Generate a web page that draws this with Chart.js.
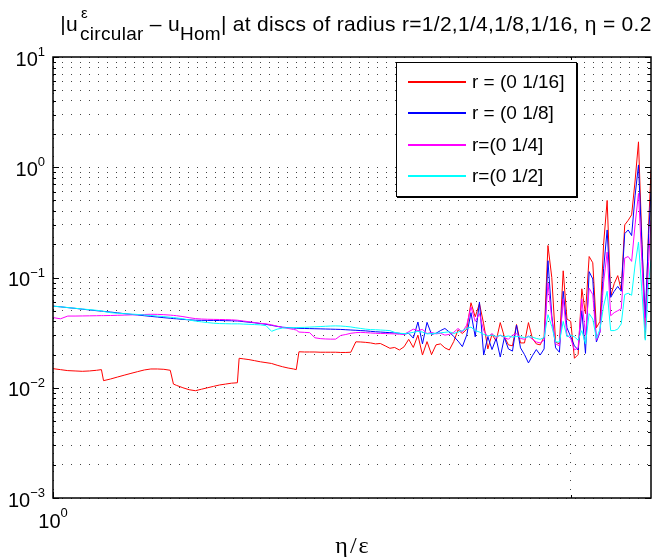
<!DOCTYPE html>
<html>
<head>
<meta charset="utf-8">
<script src="https://cdn.jsdelivr.net/npm/chart.js@4"></script>
<style>
  html, body { margin: 0; padding: 0; background: #fff; }
  #wrap { position: relative; width: 662px; height: 557px; overflow: hidden; }
  #c { position: absolute; left: 0; top: 0; }
  #title {
    position: absolute; left: 30px; width: 652px; top: 12px;
    text-align: center; white-space: nowrap; color: #000; letter-spacing: 0.3px;
    font: 21px "Liberation Sans", Arial, sans-serif; line-height: 23px;
  }
  .st { position: relative; display: inline-block; padding-left: 2px; }
  .st .sp { position: absolute; left: 3px; top: -11px; font-size: 15px; }
  .sb { position: relative; top: 9px; font-size: 19px; }
  #legend {
    position: absolute; left: 396px; top: 62px; width: 179px; height: 133px;
    border: 1px solid #000; background: #fff; box-shadow: 1px 1px 0 #000;
    font: 19px "Liberation Sans", Arial, sans-serif; color: #000;
  }
  .row { position: absolute; left: 0; width: 100%; height: 20px; line-height: 20px; }
  .swatch { position: absolute; left: 11px; top: 9px; width: 58px; height: 2px; }
  .lab { position: absolute; left: 75px; top: 0; white-space: nowrap; }
</style>
</head>
<body>
<div id="wrap">
  <canvas id="c" width="662" height="557"></canvas>
  <div id="title">|u<span class="st"><span class="sp">ε</span><span class="sb">circular</span></span> – u<span class="sb">Hom</span>| at discs of radius r=1/2,1/4,1/8,1/16, η = 0.2</div>
  <div id="legend"></div>
</div>
<script>
// η/ε sample points (shared by all four curves)
const xs = [
  1.00, 1.01, 1.02, 1.03, 1.04, 1.05, 1.06, 1.067, 1.07, 1.08,
  1.09, 1.10, 1.11, 1.12, 1.13, 1.14, 1.15, 1.16, 1.17, 1.175,
  1.18, 1.19, 1.20, 1.21, 1.22, 1.23, 1.24, 1.25, 1.26, 1.27,
  1.28, 1.283, 1.29, 1.30, 1.31, 1.32, 1.33, 1.34, 1.35, 1.36,
  1.37, 1.38, 1.385, 1.39, 1.40, 1.41, 1.42, 1.43, 1.44, 1.45,
  1.46, 1.47, 1.48, 1.49, 1.50, 1.51, 1.52, 1.53, 1.54, 1.55,
  1.56, 1.57, 1.58, 1.59, 1.60, 1.61, 1.62, 1.63, 1.64, 1.65,
  1.66, 1.67, 1.68, 1.69, 1.70, 1.71, 1.72, 1.73, 1.74, 1.75,
  1.76, 1.77, 1.78, 1.79, 1.80, 1.81, 1.82, 1.83, 1.84, 1.85,
  1.86, 1.87, 1.88, 1.89, 1.90, 1.91, 1.92, 1.93, 1.94, 1.95,
  1.96, 1.97, 1.98, 1.99, 2.00, 2.01, 2.02, 2.03, 2.04, 2.05,
  2.06, 2.07, 2.08, 2.09, 2.10, 2.11, 2.12, 2.13, 2.14, 2.15,
  2.16, 2.17, 2.18, 2.19, 2.20, 2.21, 2.22, 2.227
];

// error on discs of radius 1/16
const errR16 = [
  0.0149, 0.0146, 0.0143, 0.0142, 0.0141, 0.0142, 0.0144, 0.0146, 0.0116, 0.0120,
  0.0125, 0.0130, 0.0135, 0.0140, 0.0145, 0.0148, 0.0148, 0.0147, 0.0144, 0.0108,
  0.0105, 0.0100, 0.0096, 0.0094, 0.0097, 0.0100, 0.0103, 0.0106, 0.0108, 0.0110,
  0.0111, 0.0185, 0.0183, 0.0180, 0.0176, 0.0172, 0.0169, 0.0166, 0.0160, 0.0155,
  0.0151, 0.0148, 0.0146, 0.0212, 0.0211, 0.0211, 0.0211, 0.0210, 0.0210, 0.0210,
  0.0210, 0.0209, 0.0209, 0.0210, 0.0261, 0.0260, 0.0258, 0.0255, 0.0250, 0.0252,
  0.0240, 0.0228, 0.0232, 0.0220, 0.0235, 0.0275, 0.0232, 0.0300, 0.0198, 0.0262,
  0.0200, 0.0245, 0.0250, 0.0230, 0.0220, 0.0262, 0.0335, 0.0310, 0.0340, 0.0590,
  0.0440, 0.0580, 0.0380, 0.0225, 0.0305, 0.0265, 0.0390, 0.0290, 0.0245, 0.0240,
  0.0375, 0.0255, 0.0255, 0.0390, 0.0280, 0.0250, 0.0245, 0.0290, 0.195, 0.100,
  0.026, 0.025, 0.115, 0.042, 0.040, 0.0185, 0.020, 0.079, 0.047, 0.155,
  0.136, 0.035, 0.040, 0.20, 0.50, 0.068, 0.088, 0.104, 0.077, 0.30,
  0.33, 0.37, 0.75, 1.70, 0.22, 0.028, 0.30, 0.94
];

// error on discs of radius 1/8
const errR8 = [
  0.0550, 0.0542, 0.0533, 0.0525, 0.0516, 0.0508, 0.0500, 0.0495, 0.0493, 0.0486,
  0.0478, 0.0470, 0.0463, 0.0457, 0.0450, 0.0444, 0.0438, 0.0432, 0.0427, 0.0424,
  0.0422, 0.0417, 0.0413, 0.0410, 0.0409, 0.0408, 0.0408, 0.0407, 0.0406, 0.0405,
  0.0403, 0.0402, 0.0398, 0.0393, 0.0388, 0.0382, 0.0376, 0.0368, 0.0360, 0.0354,
  0.0351, 0.0348, 0.0347, 0.0346, 0.0345, 0.0344, 0.0343, 0.0342, 0.0341, 0.0340,
  0.0339, 0.0338, 0.0336, 0.0334, 0.0332, 0.0330, 0.0328, 0.0325, 0.0322, 0.0320,
  0.0318, 0.0316, 0.0314, 0.0312, 0.0306, 0.0312, 0.0282, 0.0395, 0.0250, 0.0392,
  0.0305, 0.0312, 0.0330, 0.0345, 0.0320, 0.0292, 0.0265, 0.0236, 0.0300, 0.0480,
  0.0290, 0.0600, 0.0198, 0.0290, 0.0222, 0.0280, 0.0190, 0.0285, 0.0225, 0.0215,
  0.0370, 0.0230, 0.0200, 0.0168, 0.0195, 0.0222, 0.0198, 0.0225, 0.142, 0.045,
  0.023, 0.021, 0.075, 0.035, 0.029, 0.024, 0.022, 0.050, 0.0205, 0.113,
  0.097, 0.026, 0.032, 0.12, 0.27, 0.066, 0.075, 0.083, 0.075, 0.25,
  0.27, 0.24, 0.55, 1.05, 0.20, 0.043, 0.25, 0.60
];

// error on discs of radius 1/4
const errR4 = [
  0.0433, 0.0422, 0.0447, 0.0447, 0.0448, 0.0449, 0.0450, 0.0451, 0.0451, 0.0452,
  0.0454, 0.0456, 0.0458, 0.0460, 0.0462, 0.0464, 0.0463, 0.0460, 0.0456, 0.0453,
  0.0450, 0.0442, 0.0432, 0.0424, 0.0420, 0.0418, 0.0417, 0.0416, 0.0415, 0.0413,
  0.0410, 0.0408, 0.0403, 0.0397, 0.0390, 0.0384, 0.0380, 0.0372, 0.0362, 0.0352,
  0.0345, 0.0338, 0.0334, 0.0320, 0.0318, 0.0316, 0.0284, 0.0279, 0.0277, 0.0276,
  0.0276, 0.0298, 0.0304, 0.0312, 0.0316, 0.0318, 0.0316, 0.0314, 0.0312, 0.0311,
  0.0310, 0.0309, 0.0308, 0.0306, 0.0305, 0.0322, 0.0340, 0.0330, 0.0338, 0.0310,
  0.0318, 0.0308, 0.0312, 0.0300, 0.0305, 0.0318, 0.0345, 0.0320, 0.0370, 0.0540,
  0.0400, 0.0470, 0.0330, 0.0290, 0.0310, 0.0285, 0.0300, 0.0285, 0.0275, 0.0300,
  0.0310, 0.0280, 0.0275, 0.0295, 0.0275, 0.0260, 0.0255, 0.0270, 0.089, 0.042,
  0.025, 0.024, 0.064, 0.030, 0.028, 0.022, 0.023, 0.064, 0.030, 0.080,
  0.070, 0.027, 0.032, 0.09, 0.17, 0.045, 0.048, 0.050, 0.052, 0.15,
  0.155, 0.14, 0.30, 0.58, 0.14, 0.033, 0.14, 0.33
];

// error on discs of radius 1/2
const errR2 = [
  0.0550, 0.0542, 0.0534, 0.0526, 0.0518, 0.0511, 0.0504, 0.0499, 0.0492, 0.0480,
  0.0474, 0.0470, 0.0466, 0.0462, 0.0457, 0.0452, 0.0447, 0.0442, 0.0436, 0.0433,
  0.0430, 0.0422, 0.0412, 0.0402, 0.0396, 0.0390, 0.0385, 0.0382, 0.0381, 0.0380,
  0.0380, 0.0380, 0.0378, 0.0376, 0.0374, 0.0372, 0.0366, 0.0325, 0.0340, 0.0348,
  0.0350, 0.0351, 0.0352, 0.0352, 0.0353, 0.0355, 0.0357, 0.0359, 0.0361, 0.0363,
  0.0364, 0.0363, 0.0360, 0.0356, 0.0350, 0.0345, 0.0340, 0.0337, 0.0336, 0.0334,
  0.0332, 0.0330, 0.0318, 0.0312, 0.0310, 0.0313, 0.0318, 0.0325, 0.0320, 0.0308,
  0.0310, 0.0312, 0.0315, 0.0318, 0.0322, 0.0310, 0.0320, 0.0330, 0.0345, 0.0355,
  0.0330, 0.0320, 0.0305, 0.0295, 0.0300, 0.0292, 0.0298, 0.0290, 0.0295, 0.0288,
  0.0292, 0.0290, 0.0285, 0.0290, 0.0288, 0.0280, 0.0275, 0.0285, 0.046, 0.036,
  0.026, 0.026, 0.040, 0.029, 0.030, 0.029, 0.027, 0.033, 0.025, 0.047,
  0.042, 0.028, 0.034, 0.055, 0.075, 0.033, 0.033, 0.034, 0.038, 0.070,
  0.072, 0.069, 0.13, 0.21, 0.075, 0.027, 0.09, 0.143
];

const seriesLabels = ['r = (0 1/16]', 'r = (0 1/8]', 'r=(0 1/4]', 'r=(0 1/2]'];
const seriesColors = ['#ff0000', '#0000ff', '#ff00ff', '#00ffff'];
const seriesValues = [errR16, errR8, errR4, errR2];

// axis ticks: every 1..9 × 10^k on y, decade labels drawn as 10^k
const yTicks = [
  0.001, 0.002, 0.003, 0.004, 0.005, 0.006, 0.007, 0.008, 0.009,
  0.01, 0.02, 0.03, 0.04, 0.05, 0.06, 0.07, 0.08, 0.09,
  0.1, 0.2, 0.3, 0.4, 0.5, 0.6, 0.7, 0.8, 0.9,
  1, 2, 3, 4, 5, 6, 7, 8, 9, 10
];
const yDecades = [0.001, 0.01, 0.1, 1, 10];
const yExponents = ['−3', '−2', '−1', '0', '1'];
const xTicks = [1, 2];
const xDecades = [1];
const xExponents = ['0'];
const xMin = 1, xMax = 2.227, yMin = 0.001, yMax = 10;

const FONT = '"Liberation Sans", Arial, sans-serif';

// axes box, inward tick marks and 10^k tick labels
const axesBox = {
  id: 'axesBox',
  afterDraw(chart) {
    const { ctx, chartArea: a, scales: { x, y } } = chart;
    ctx.save();
    ctx.strokeStyle = '#000';
    ctx.lineWidth = 1;
    const seg = (x1, y1, x2, y2) => { ctx.beginPath(); ctx.moveTo(x1, y1); ctx.lineTo(x2, y2); ctx.stroke(); };
    yTicks.forEach(v => {
      const py = Math.round(y.getPixelForValue(v)) + 0.5;
      const len = yDecades.includes(v) ? 6 : 3;
      seg(a.left, py, a.left + len, py);
      seg(a.right, py, a.right - len, py);
    });
    xTicks.forEach(v => {
      const px = Math.round(x.getPixelForValue(v)) + 0.5;
      const len = xDecades.includes(v) ? 6 : 3;
      seg(px, a.bottom, px, a.bottom - len);
      seg(px, a.top, px, a.top + len);
    });
    ctx.lineWidth = 1.5;
    ctx.strokeRect(a.left, a.top, a.right - a.left, a.bottom - a.top);

    ctx.fillStyle = '#000';
    ctx.textAlign = 'left';
    ctx.textBaseline = 'alphabetic';
    const big = '20px ' + FONT, small = '13px ' + FONT;
    yDecades.forEach((v, i) => {
      const py = y.getPixelForValue(v);
      ctx.font = big; const w1 = ctx.measureText('10').width;
      ctx.font = small; const w2 = ctx.measureText(yExponents[i]).width;
      const right = a.left - 8;
      ctx.font = big; ctx.fillText('10', right - w2 - w1, py + 8.5);
      ctx.font = small; ctx.fillText(yExponents[i], right - w2, py - 1);
    });
    xDecades.forEach((v, i) => {
      const px = x.getPixelForValue(v);
      ctx.font = big; const w1 = ctx.measureText('10').width;
      ctx.font = small; const w2 = ctx.measureText(xExponents[i]).width;
      const left = px - (w1 + w2) / 2;
      ctx.font = big; ctx.fillText('10', left, a.bottom + 29.5);
      ctx.font = small; ctx.fillText(xExponents[i], left + w1, a.bottom + 19);
    });
    ctx.restore();
  }
};

const datasets = seriesValues.map((vals, i) => ({
  label: seriesLabels[i],
  data: xs.map((xv, j) => ({ x: xv, y: vals[j] })),
  borderColor: seriesColors[i],
  backgroundColor: seriesColors[i],
  borderWidth: 1,
  pointRadius: 0,
  tension: 0,
  fill: false,
  order: seriesValues.length - 1 - i
}));

const gridStyle = { color: '#444', lineWidth: 1, drawTicks: false };

new Chart(document.getElementById('c'), {
  type: 'line',
  data: { datasets },
  options: {
    responsive: false,
    animation: false,
    devicePixelRatio: 1,
    layout: { padding: { left: 0, right: 11, top: 57, bottom: 0 } },
    plugins: { legend: { display: false }, title: { display: false }, tooltip: { enabled: false } },
    scales: {
      x: {
        type: 'logarithmic', min: xMin, max: xMax,
        afterBuildTicks: s => { s.ticks = xTicks.map(v => ({ value: v })); },
        ticks: { display: false },
        grid: gridStyle,
        border: { display: false, dash: [1, 8] },
        title: { display: true, text: 'η\u200a/\u200aε', color: '#000', padding: { top: 0, bottom: -4 },
                 font: { family: '"Liberation Serif", "Times New Roman", serif', size: 24 } },
        afterFit: s => { s.height = 59; }
      },
      y: {
        type: 'logarithmic', min: yMin, max: yMax,
        afterBuildTicks: s => { s.ticks = yTicks.map(v => ({ value: v })); },
        ticks: { display: false },
        grid: gridStyle,
        border: { display: false, dash: [1, 8] },
        afterFit: s => { s.width = 53; }
      }
    }
  },
  plugins: [axesBox]
});

// legend box built from the series names and colours
const legend = document.getElementById('legend');
const rowTops = [9, 40, 72, 103];
seriesLabels.forEach((lab, i) => {
  const row = document.createElement('div');
  row.className = 'row';
  row.style.top = rowTops[i] + 'px';
  const sw = document.createElement('div');
  sw.className = 'swatch';
  sw.style.backgroundColor = seriesColors[i];
  const tx = document.createElement('div');
  tx.className = 'lab';
  tx.textContent = lab;
  row.appendChild(sw);
  row.appendChild(tx);
  legend.appendChild(row);
});
</script>
</body>
</html>
